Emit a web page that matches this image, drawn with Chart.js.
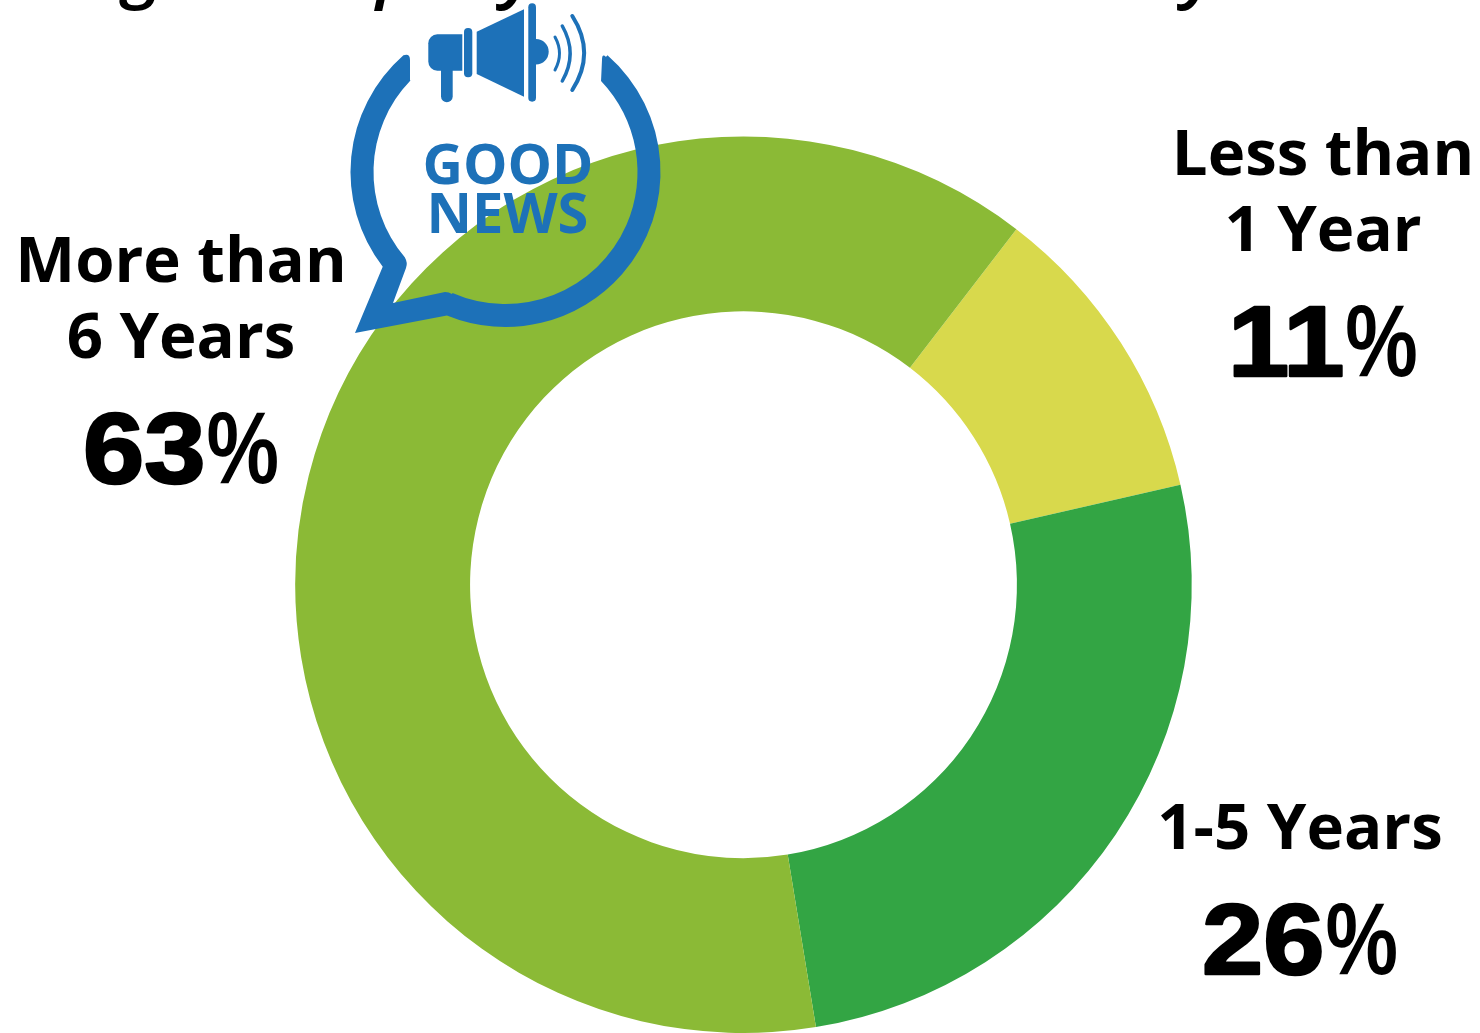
<!DOCTYPE html>
<html>
<head>
<meta charset="utf-8">
<title>Years of service</title>
<script src="https://cdn.jsdelivr.net/npm/chart.js@4/dist/chart.umd.min.js"></script>
<style>
  html, body { margin: 0; padding: 0; background: #fff; overflow: hidden; }
  canvas { display: block; }
</style>
</head>
<body>
<canvas id="chart" width="1480" height="1033"></canvas>
<script>
const categories = ["Less than 1 Year", "1-5 Years", "More than 6 Years"]
const values = [11, 26, 63]
const labelLines = [["Less than", "1 Year"], ["1-5 Years"], ["More than", "6 Years"]]
const sliceColors = ["#d8d94c", "#33a544", "#8bba36"]
const badgeLines = ["GOOD", "NEWS"]
const headingLetters = ["g", "p", "y", "y"]

const BLUE = "#1d71b8"
const LABEL_FONT = '700 63.5px "Open Sans"'

// where each label block sits: centre x, baseline of each name line, baseline of the percentage
const labelSpots = [
  { x: 1323, lines: [174.5, 251], pct: 376 },
  { x: 1300, lines: [849], pct: 974 },
  { x: 181, lines: [281.5, 358], pct: 483 },
]

const sliceLabels = {
  id: "sliceLabels",
  afterDraw(chart) {
    const { ctx } = chart
    const digitStretch = 1.1, signSqueeze = 0.8, gap = 1
    ctx.save()
    ctx.fillStyle = "#000"
    ctx.textBaseline = "alphabetic"
    labelSpots.forEach((spot, i) => {
      ctx.textAlign = "center"
      ctx.font = LABEL_FONT
      labelLines[i].forEach((line, n) => ctx.fillText(line, spot.x, spot.lines[n]))

      // wide heavy digits and a tall narrow percent sign, centred as one run
      const digits = String(values[i])
      ctx.textAlign = "left"
      ctx.font = '700 100px "Liberation Sans"'
      const dw = ctx.measureText(digits).width * digitStretch
      ctx.font = '700 102px "Liberation Sans"'
      const pw = ctx.measureText("%").width * signSqueeze
      const left = spot.x - (dw + pw + gap) / 2

      ctx.save()
      ctx.translate(left, spot.pct)
      ctx.scale(digitStretch, 1)
      ctx.font = '700 100px "Liberation Sans"'
      ctx.lineWidth = 2.5
      ctx.strokeStyle = "#000"
      ctx.lineJoin = "round"
      ctx.strokeText(digits, 0, 0)
      ctx.fillText(digits, 0, 0)
      ctx.restore()

      ctx.save()
      ctx.translate(left + dw + gap, spot.pct)
      ctx.scale(signSqueeze, 1)
      ctx.font = '700 102px "Liberation Sans"'
      ctx.fillText("%", 0, 0)
      ctx.restore()
    })
    ctx.restore()
  },
}

// heading runs off the top edge, only the descenders stay on the canvas
const headingTails = {
  id: "headingTails",
  afterDraw(chart) {
    const { ctx } = chart
    const xs = [123, 376, 502, 1183]
    ctx.save()
    ctx.fillStyle = "#000"
    ctx.font = 'italic 600 72px "Open Sans"'
    ctx.textAlign = "left"
    headingLetters.forEach((ch, i) => ctx.fillText(ch, xs[i], -6))
    ctx.restore()
  },
}

function drawSpeechRing(ctx) {
  const cx = 505.5, cy = 172, outer = 155, inner = 132
  const ang = (x, y) => Math.atan2(y - cy, x - cx)
  ctx.beginPath()
  ctx.moveTo(603, 60)
  ctx.arc(cx, cy, outer, ang(606, 57), ang(446.7, 316))
  ctx.lineTo(355, 333)
  ctx.lineTo(382.7, 266.7)
  ctx.arc(cx, cy, outer, ang(382.7, 266.7), ang(404, 56))
  ctx.quadraticCurveTo(410, 53, 410, 60)
  ctx.lineTo(410, 80)
  ctx.arc(cx, cy, inner, ang(410, 80), ang(404, 258), true)
  ctx.quadraticCurveTo(408, 263, 406, 268)
  ctx.lineTo(393, 303)
  ctx.lineTo(445, 292)
  ctx.quadraticCurveTo(449, 292, 452, 294)
  ctx.arc(cx, cy, inner, ang(452, 294), ang(602, 80), true)
  ctx.lineTo(602, 60)
  ctx.quadraticCurveTo(602, 53, 606, 57)
  ctx.closePath()
  ctx.fill()
}

function drawMegaphone(ctx) {
  // handle and grip
  ctx.beginPath()
  ctx.roundRect(428.3, 34.3, 34, 36.4, [9, 0, 0, 9])
  ctx.fill()
  ctx.beginPath()
  ctx.roundRect(441, 66, 11.7, 36.3, [0, 0, 6, 6])
  ctx.fill()
  // collar
  ctx.beginPath()
  ctx.roundRect(464, 28, 8.3, 49.3, 4)
  ctx.fill()
  // cone
  ctx.beginPath()
  ctx.moveTo(476.7, 31.7)
  ctx.lineTo(524, 9.3)
  ctx.lineTo(524, 96.7)
  ctx.lineTo(476.7, 74)
  ctx.closePath()
  ctx.fill()
  // mouth bar and dome
  ctx.beginPath()
  ctx.roundRect(528.3, 3.3, 7.7, 98.4, 4)
  ctx.fill()
  ctx.beginPath()
  ctx.arc(536, 51.7, 12.7, -Math.PI / 2, Math.PI / 2)
  ctx.fill()
  // sound waves
  const waves = [[555, 37, 70, 564, 3], [562.3, 26, 81, 578, 3.5], [572.3, 16, 90, 596, 4]]
  ctx.strokeStyle = BLUE
  ctx.lineCap = "round"
  waves.forEach(([x, top, bottom, ctrl, w]) => {
    ctx.lineWidth = w
    ctx.beginPath()
    ctx.moveTo(x, top)
    ctx.quadraticCurveTo(ctrl, (top + bottom) / 2, x, bottom)
    ctx.stroke()
  })
}

const newsBadge = {
  id: "newsBadge",
  afterDraw(chart) {
    const { ctx } = chart
    ctx.save()
    ctx.fillStyle = BLUE
    drawSpeechRing(ctx)
    drawMegaphone(ctx)
    ctx.font = '700 56px "Open Sans"'
    ctx.textAlign = "center"
    ctx.fillText(badgeLines[0], 508, 184)
    ctx.fillText(badgeLines[1], 507.5, 233)
    ctx.restore()
  },
}

new Chart(document.getElementById("chart"), {
  type: "doughnut",
  data: {
    labels: categories,
    datasets: [{
      data: values,
      backgroundColor: sliceColors,
      borderWidth: 0,
    }],
  },
  options: {
    responsive: false,
    animation: false,
    cutout: "61%",
    rotation: 37.5,
    layout: { padding: { top: 136.5, left: 7, right: 0, bottom: 0 } },
    plugins: {
      legend: { display: false },
      tooltip: { enabled: false },
    },
  },
  plugins: [sliceLabels, headingTails, newsBadge],
})
</script>
</body>
</html>
